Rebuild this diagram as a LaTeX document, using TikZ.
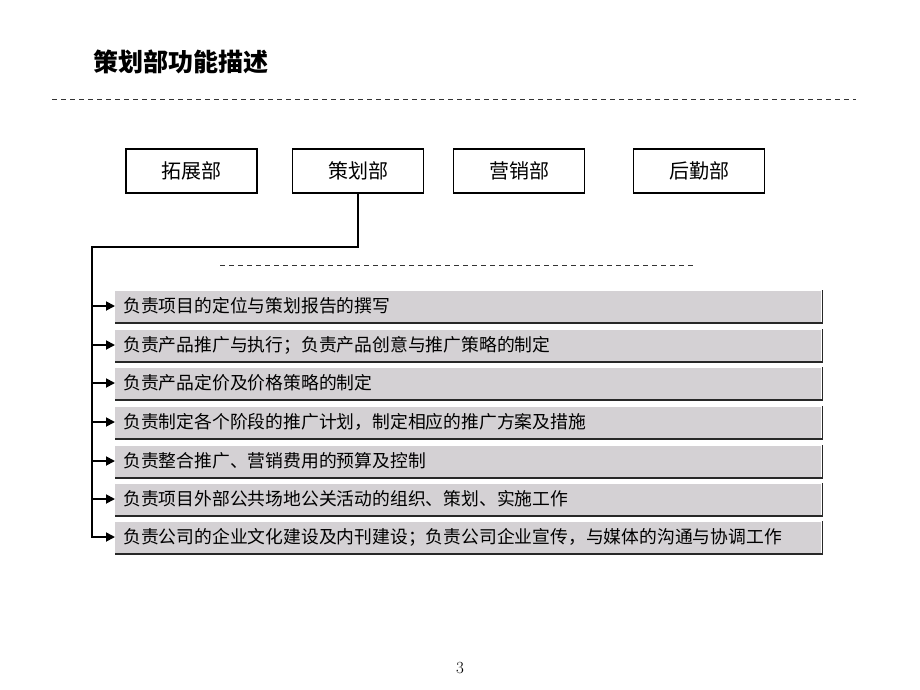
\documentclass[tikz,border=0pt]{standalone}
\usepackage{fontspec}
\newfontfamily\cjk{Noto Sans CJK SC}
\usetikzlibrary{arrows.meta}
\definecolor{barfill}{RGB}{212,209,212}
\definecolor{barline}{RGB}{40,40,40}
\tikzset{
  dept/.style={draw=black, line width=1.6pt, fill=white, minimum width=131pt,
    minimum height=44pt, font=\cjk\fontsize{20}{22}\selectfont},
  duty/.style={fill=barfill, anchor=west, minimum width=704pt, minimum height=31pt,
    text width=690pt, align=left, inner xsep=8pt, font=\cjk\fontsize{17.8}{19}\selectfont},
  shade/.style={draw=barline, line width=1.6pt},
  link/.style={draw=black, line width=1.8pt},
  feed/.style={link, -{Triangle[length=9pt,width=9pt]}},
  rule/.style={draw=black!80, line width=0.7pt, dash pattern=on 5pt off 4pt}
}
\begin{document}
\begin{tikzpicture}[x=1pt,y=-1pt]
\useasboundingbox (0,0) rectangle (920,690);

% Title and top rule
  \node[anchor=west, font=\cjk\fontsize{25}{28}\selectfont\bfseries] (title) at (90,62) {策划部功能描述};
  \draw[rule] (52,99) -- (856,99);

% Departments
  \node[dept] (tz) at (191.5,171) {拓展部};
  \node[dept] (ch) at (358,171) {策划部};
  \node[dept] (yx) at (519,171) {营销部};
  \node[dept] (hq) at (699,171) {后勤部};

% Inner rule
  \draw[rule] (220,265) -- (694,265);

% Duties
  \node[duty] (b1) at (115,306) {负责项目的定位与策划报告的撰写};
  \node[duty] (b2) at (115,345) {负责产品推广与执行；负责产品创意与推广策略的制定};
  \node[duty] (b3) at (115,383) {负责产品定价及价格策略的制定};
  \node[duty] (b4) at (115,422) {负责制定各个阶段的推广计划，制定相应的推广方案及措施};
  \node[duty] (b5) at (115,461) {负责整合推广、营销费用的预算及控制};
  \node[duty] (b6) at (115,499) {负责项目外部公共场地公关活动的组织、策划、实施工作};
  \node[duty] (b7) at (115,537) {负责公司的企业文化建设及内刊建设；负责公司企业宣传，与媒体的沟通与协调工作};

% Shadows on the bars
  \draw[shade] ([yshift=-1pt]b1.south west) -- ([shift={(1pt,-1pt)}]b1.south east) -- ([xshift=1pt]b1.north east);
  \draw[shade] ([yshift=-1pt]b2.south west) -- ([shift={(1pt,-1pt)}]b2.south east) -- ([xshift=1pt]b2.north east);
  \draw[shade] ([yshift=-1pt]b3.south west) -- ([shift={(1pt,-1pt)}]b3.south east) -- ([xshift=1pt]b3.north east);
  \draw[shade] ([yshift=-1pt]b4.south west) -- ([shift={(1pt,-1pt)}]b4.south east) -- ([xshift=1pt]b4.north east);
  \draw[shade] ([yshift=-1pt]b5.south west) -- ([shift={(1pt,-1pt)}]b5.south east) -- ([xshift=1pt]b5.north east);
  \draw[shade] ([yshift=-1pt]b6.south west) -- ([shift={(1pt,-1pt)}]b6.south east) -- ([xshift=1pt]b6.north east);
  \draw[shade] ([yshift=-1pt]b7.south west) -- ([shift={(1pt,-1pt)}]b7.south east) -- ([xshift=1pt]b7.north east);

% Connectors
  \coordinate (trunk) at (92,247);
  \draw[feed] (ch.south) |- (trunk) |- (b7.west);
  \draw[feed] (trunk |- b1.west) -- (b1.west);
  \draw[feed] (trunk |- b2.west) -- (b2.west);
  \draw[feed] (trunk |- b3.west) -- (b3.west);
  \draw[feed] (trunk |- b4.west) -- (b4.west);
  \draw[feed] (trunk |- b5.west) -- (b5.west);
  \draw[feed] (trunk |- b6.west) -- (b6.west);

% Page number
  \node[font=\fontsize{17}{19}\selectfont] (page) at (460,668) {3};
\end{tikzpicture}
\end{document}
